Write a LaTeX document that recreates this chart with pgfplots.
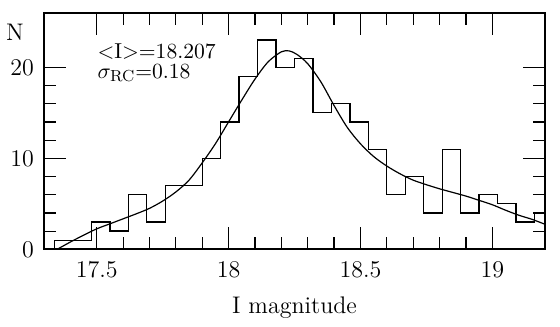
\documentclass[border=0pt]{standalone}
\usepackage{pgfplots}
\pgfplotsset{compat=1.18}
\usetikzlibrary{calc}
\begin{document}
\begin{tikzpicture}
\begin{axis}[
  scale only axis, width=250.5pt, height=118.3pt,
  xmin=17.3, xmax=19.2, ymin=0, ymax=26,
  xtick={17.5,18,18.5,19}, minor x tick num=4,
  ytick={0,10,20}, minor y tick num=4,
  tick align=inside, xtick pos=both, ytick pos=both,
  xticklabel pos=bottom, yticklabel pos=left,
  major tick length=11pt, minor tick length=6pt,
  tick style={black, line width=0.6pt},
  axis line style={line width=0.9pt},
  ticklabel style={font=\fontsize{12}{14}\selectfont},
  xticklabel style={yshift=-2.85pt},
  yticklabel style={xshift=-1.5pt},
  xlabel={I magnitude},
  xlabel style={font=\fontsize{12}{14}\selectfont, at={(axis description cs:0.5,-0.273)}, anchor=base},
  ylabel={N},
  ylabel style={font=\fontsize{12}{14}\selectfont, rotate=-90, at={(axis description cs:-0.058,0.918)}, anchor=center},
]
\addplot[const plot mark right, line width=0.65pt] coordinates {
(17.34,0) (17.41,1) (17.48,1) (17.55,3) (17.62,2) (17.69,6) (17.76,3)
(17.83,7) (17.90,7) (17.97,10) (18.04,14) (18.11,19) (18.18,23) (18.25,20)
(18.32,21) (18.39,15) (18.46,16) (18.53,14) (18.60,11) (18.67,6) (18.74,8)
(18.81,4) (18.88,11) (18.95,4) (19.02,6) (19.09,5) (19.16,3) (19.23,4)
};
\addplot[smooth, line width=0.6pt] coordinates {
(17.35,0.0) (17.40,0.8) (17.45,1.55) (17.50,2.25) (17.55,2.8) (17.60,3.35)
(17.65,3.9) (17.70,4.5) (17.75,5.3) (17.80,6.3) (17.85,7.6) (17.90,9.5)
(17.95,11.6) (18.00,14.0) (18.05,16.4) (18.10,18.7) (18.15,20.6) (18.20,21.7)
(18.23,21.8) (18.26,21.4) (18.30,20.4) (18.35,18.4) (18.40,15.8) (18.45,13.4)
(18.50,11.6) (18.55,10.2) (18.60,9.15) (18.65,8.3) (18.70,7.6) (18.75,7.1)
(18.80,6.65) (18.85,6.25) (18.90,5.85) (18.95,5.38) (19.00,4.9) (19.05,4.3)
(19.10,3.75) (19.15,3.3) (19.20,2.75)
};
\node[anchor=north west, align=left, inner sep=0pt,
      font={\fontsize{10.8}{10}\selectfont\lineskiplimit=-20pt\relax}]
  at (axis description cs:0.106,0.872) {<I>=18.207\\$\sigma_{\mathrm{RC}}$=0.18};
\coordinate (bl) at (rel axis cs:0,0);
\coordinate (tr) at (rel axis cs:1,1);
\end{axis}
\pgfresetboundingbox
\path ($(bl)+(-22pt,-38.35pt)$) rectangle ($(tr)+(7.5pt,6.35pt)$);
\end{tikzpicture}
\end{document}
